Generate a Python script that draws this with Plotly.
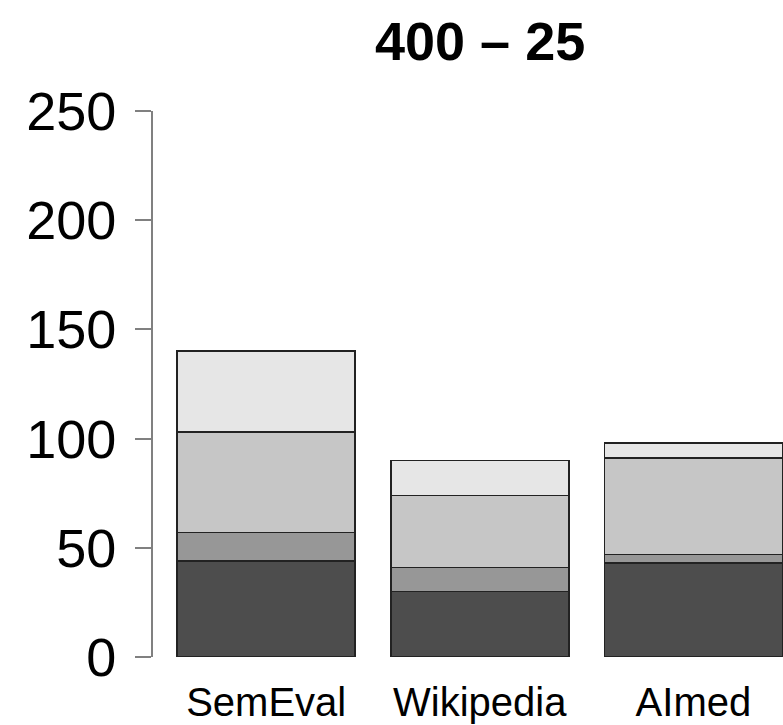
import plotly.graph_objects as go

# Stacked counts per corpus (bottom segment first)
categories = ["SemEval", "Wikipedia", "AImed"]
seg1 = [44, 30, 43]
seg2 = [13, 11, 4]
seg3 = [46, 33, 44]
seg4 = [37, 16, 7]
y_ticks = [0, 50, 100, 150, 200, 250]
title_text = "400 – 25"

colors = ["#4D4D4D", "#979797", "#C6C6C6", "#E6E6E6"]

# barplot-style positions: width 1, space 0.2
x_pos = [0.2 + i * 1.2 + 0.5 for i in range(len(categories))]

fig = go.Figure()
for vals, col in zip([seg1, seg2, seg3, seg4], colors):
    fig.add_trace(go.Bar(
        x=x_pos, y=vals, width=1.0,
        marker=dict(color=col, line=dict(color="#222222", width=1.6)),
        showlegend=False,
    ))

fig.update_layout(
    barmode="stack",
    width=783, height=725,
    margin=dict(l=153, r=0, t=111, b=68),
    paper_bgcolor="white", plot_bgcolor="white",
    font=dict(family="Liberation Sans, Arial, sans-serif", color="black"),
    xaxis=dict(
        range=[0.064, 3.6034],
        tickvals=x_pos, ticktext=categories,
        showline=False, showgrid=False, zeroline=False, ticks="",
        tickfont=dict(size=40),
        ticklabelstandoff=18,
    ),
    yaxis=dict(
        range=[0, 250],
        tickvals=y_ticks,
        showline=True, linecolor="#808080", linewidth=1.6,
        ticks="outside", ticklen=16, tickwidth=1.6, tickcolor="#808080",
        showgrid=False, zeroline=False,
        tickfont=dict(size=54),
        ticklabelstandoff=8,
    ),
    annotations=[dict(
        text="<b>" + title_text + "</b>",
        x=1.9, xref="x", y=1.0, yref="paper",
        yshift=38, yanchor="bottom", xanchor="center",
        showarrow=False, font=dict(size=54),
    )],
)

fig.write_html("out.html")
